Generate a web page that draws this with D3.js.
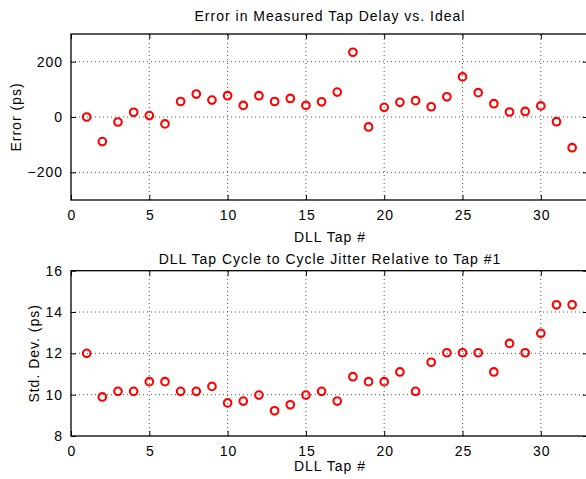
<!DOCTYPE html>
<html><head><meta charset="utf-8">
<script src="https://cdn.jsdelivr.net/npm/d3@7"></script>
<style>body{margin:0;background:#fff}svg{display:block}text{font-family:"Liberation Sans",Arial,sans-serif;font-size:14px;fill:#000;letter-spacing:1px}</style>
</head><body><svg id="c" width="586" height="479"></svg>
<script>
const taps = d3.range(1, 33);
const errorPs = [0,-89,-18,17,5,-25,56,83,61,77,42,77,56,67,42,55,90,234,-36,35,53,59,37,73,145,88,48,18,20,40,-17,-111];
const stdDevPs = [12.0,9.89,10.16,10.16,10.63,10.63,10.16,10.16,10.40,9.60,9.69,9.98,9.22,9.51,9.98,10.16,9.69,10.87,10.63,10.63,11.10,10.16,11.57,12.03,12.03,12.03,11.10,12.48,12.03,12.97,14.35,14.35];
const xTicks = [0,5,10,15,20,25,30];
const yTicksTop = [-200,0,200];
const yTicksBottom = [8,10,12,14,16];
const titles = ["Error in Measured Tap Delay vs. Ideal","DLL Tap Cycle to Cycle Jitter Relative to Tap #1"];
const yLabels = ["Error (ps)","Std. Dev. (ps)"];
const xLabel = "DLL Tap #";

const svg = d3.select("#c");
const x = d3.scaleLinear().domain([0,33]).range([71,587.8]);

function panel(cfg){
  const {y, vals, yTicks, title, ylab, titleY, xlabY, ylabX, tickFmt} = cfg;
  const g = svg.append("g");
  const [y0,y1] = y.range();
  const x0 = x.range()[0], x1 = x.range()[1];
  const grid = g.append("g").attr("stroke","#555").attr("stroke-width",1).attr("stroke-dasharray","1,3");
  xTicks.filter(t=>t>0).forEach(t=>grid.append("line").attr("x1",x(t)).attr("x2",x(t)).attr("y1",y0).attr("y2",y1));
  yTicks.filter(t=>t>y.domain()[0] && t<y.domain()[1]).forEach(t=>grid.append("line").attr("x1",x0).attr("x2",x1).attr("y1",y(t)).attr("y2",y(t)));
  g.append("g").attr("transform",`translate(0,${y0})`).call(d3.axisBottom(x).tickValues(xTicks).tickSize(-5).tickPadding(10).tickSizeOuter(0))
    .call(s=>s.select(".domain").remove()).selectAll("text").style("font-size","14px").attr("font-family","Liberation Sans, Arial").attr("dx","0.5");
  g.append("g").attr("transform",`translate(0,${y1})`).call(d3.axisTop(x).tickValues(xTicks).tickSize(-5).tickFormat("").tickSizeOuter(0))
    .call(s=>s.select(".domain").remove());
  g.append("g").attr("transform",`translate(${x0},0)`).call(d3.axisLeft(y).tickValues(yTicks).tickSize(-5).tickPadding(8).tickFormat(tickFmt).tickSizeOuter(0))
    .call(s=>s.select(".domain").remove()).selectAll("text").style("font-size","14px").attr("font-family","Liberation Sans, Arial");
  g.append("g").attr("transform",`translate(${x1},0)`).call(d3.axisRight(y).tickValues(yTicks).tickSize(-5).tickFormat("").tickSizeOuter(0))
    .call(s=>s.select(".domain").remove());
  g.selectAll(".tick line").attr("stroke","#000").attr("stroke-width",1);
  g.append("rect").attr("x",x0).attr("y",y1).attr("width",x1-x0).attr("height",y0-y1)
    .attr("fill","none").attr("stroke","#000").attr("stroke-width",1.3);
  g.append("g").selectAll("circle").data(vals).join("circle")
    .attr("cx",(d,i)=>x(taps[i])).attr("cy",d=>y(d)).attr("r",3.8)
    .attr("fill","none").attr("stroke","#f00").attr("stroke-width",2.1);
  g.append("text").attr("x",330).attr("y",titleY).attr("text-anchor","middle").text(title);
  g.append("text").attr("x",330).attr("y",xlabY).attr("text-anchor","middle").text(xLabel);
  g.append("text").attr("transform",`translate(${ylabX},${(y0+y1)/2}) rotate(-90)`).attr("text-anchor","middle").text(ylab);
}

panel({y:d3.scaleLinear().domain([-300,300]).range([200,34]), vals:errorPs, yTicks:yTicksTop,
  title:titles[0], ylab:yLabels[0], titleY:21, xlabY:242, ylabX:21,
  tickFmt:d=>d<0?"\u2212"+Math.abs(d):String(d)});
panel({y:d3.scaleLinear().domain([8,16]).range([436,270.7]), vals:stdDevPs, yTicks:yTicksBottom,
  title:titles[1], ylab:yLabels[1], titleY:264, xlabY:471, ylabX:39,
  tickFmt:d=>String(d)});
</script></body></html>
